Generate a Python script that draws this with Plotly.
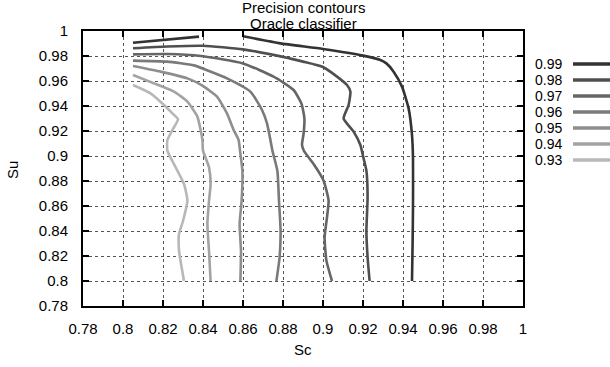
import plotly.graph_objects as go

# ---- data ----
levels = ["0.99", "0.98", "0.97", "0.96", "0.95", "0.94", "0.93"]
level_colors = ["#333333", "#4f4f4f", "#666666", "#7a7a7a", "#8e8e8e", "#a3a3a3", "#b8b8b8"]

sc_099 = [0.805, 0.838, None, 0.860, 0.8787, 0.900, 0.920, 0.9287, 0.9317, 0.9353, 0.9395, 0.9428, 0.9445, 0.9450, 0.9450, 0.9448, 0.9445]
su_099 = [0.9906, 0.9955, None, 0.9958, 0.9901, 0.9856, 0.9803, 0.9768, 0.9741, 0.9675, 0.9555, 0.9381, 0.9168, 0.8981, 0.8600, 0.8300, 0.8000]

sc_098 = [0.805, 0.822, 0.840, 0.860, 0.880, 0.890, 0.900, 0.907, 0.912, 0.9137, 0.9128, 0.9103, 0.9153, 0.9187, 0.9200, 0.9217, 0.9223, 0.9217, 0.9223, 0.9233]
su_098 = [0.9862, 0.9876, 0.9882, 0.9853, 0.9793, 0.9755, 0.9712, 0.9635, 0.9568, 0.9515, 0.9408, 0.9300, 0.9195, 0.9088, 0.9000, 0.8883, 0.8670, 0.8400, 0.8190, 0.8000]

sc_097 = [0.805, 0.822, 0.839, 0.860, 0.8753, 0.8853, 0.8893, 0.8907, 0.8903, 0.8895, 0.8905, 0.8953, 0.9003, 0.9028, 0.9020, 0.9008, 0.9017, 0.9045]
su_097 = [0.9813, 0.9816, 0.9800, 0.9741, 0.9635, 0.9528, 0.9415, 0.9300, 0.9180, 0.9090, 0.9040, 0.8936, 0.8803, 0.8643, 0.8510, 0.8350, 0.8163, 0.8000]

sc_096 = [0.805, 0.822, 0.8355, 0.843, 0.852, 0.8637, 0.8695, 0.8720, 0.8737, 0.8747, 0.8772, 0.8780, 0.8788, 0.8783, 0.8767]
su_096 = [0.9763, 0.9755, 0.9725, 0.9680, 0.9621, 0.9515, 0.9368, 0.9261, 0.9128, 0.9043, 0.8880, 0.8640, 0.8400, 0.8190, 0.8000]

sc_095 = [0.805, 0.8188, 0.8322, 0.8395, 0.8470, 0.8520, 0.8553, 0.8578, 0.8585, 0.8597, 0.8593, 0.8583, 0.8590, 0.8587]
su_095 = [0.9720, 0.9675, 0.9621, 0.9565, 0.9475, 0.9341, 0.9208, 0.9128, 0.9043, 0.8880, 0.8640, 0.8456, 0.8240, 0.8000]

sc_094 = [0.805, 0.8155, 0.8255, 0.8322, 0.8372, 0.8388, 0.8397, 0.8400, 0.8430, 0.8438, 0.8430, 0.8422, 0.8430, 0.8438]
su_094 = [0.9648, 0.9581, 0.9515, 0.9435, 0.9315, 0.9208, 0.9128, 0.9043, 0.8910, 0.8776, 0.8640, 0.8456, 0.8240, 0.8000]

sc_093 = [0.805, 0.8138, 0.8205, 0.8247, 0.8275, 0.8247, 0.8222, 0.8222, 0.8263, 0.8305, 0.8322, 0.8300, 0.8280, 0.8280, 0.8293, 0.8305]
su_093 = [0.9568, 0.9501, 0.9408, 0.9341, 0.9293, 0.9208, 0.9128, 0.9043, 0.8910, 0.8776, 0.8643, 0.8480, 0.8376, 0.8243, 0.8110, 0.8000]

sc_series = [sc_099, sc_098, sc_097, sc_096, sc_095, sc_094, sc_093]
su_series = [su_099, su_098, su_097, su_096, su_095, su_094, su_093]

tick_vals = [0.78, 0.80, 0.82, 0.84, 0.86, 0.88, 0.90, 0.92, 0.94, 0.96, 0.98, 1.00]
tick_text = ["0.78", "0.8", "0.82", "0.84", "0.86", "0.88", "0.9", "0.92", "0.94", "0.96", "0.98", "1"]

title_lines = ["Precision contours", "Oracle classifier"]
x_title = "Sc"
y_title = "Su"

# ---- figure ----
W, H = 610, 367
L, R, T, B = 83, 87, 31, 61
FONT = "Liberation Sans, Arial, sans-serif"

fig = go.Figure()
for lv, col, xs, ys in zip(levels, level_colors, sc_series, su_series):
    fig.add_trace(go.Scatter(
        x=xs, y=ys, mode="lines", name=lv,
        line=dict(color=col, width=2.6, shape="spline", smoothing=0.5),
        connectgaps=False, showlegend=False, hoverinfo="skip"))

axis_common = dict(
    range=[0.78, 1.0], tickmode="array", tickvals=tick_vals, ticktext=tick_text,
    ticks="inside", ticklen=6, tickwidth=2, tickcolor="black",
    showline=True, linecolor="black", linewidth=2, mirror="ticks",
    showgrid=True, gridcolor="#555555", gridwidth=1, griddash="dot",
    zeroline=False, tickfont=dict(family=FONT, size=15, color="black"),
    fixedrange=True,
)
fig.update_xaxes(**axis_common, ticklabelstandoff=8)
fig.update_yaxes(**axis_common, ticklabelstandoff=10)

pw, ph = W - L - R, H - T - B

def px_to_paper(px, py):
    return (px - L) / pw, (H - B - py) / ph

annotations = []
for i, line in enumerate(title_lines):
    _, yp = px_to_paper(0, 8 + 15 * i)
    annotations.append(dict(text=line, x=0.5, y=yp, xref="paper", yref="paper",
                            xanchor="center", yanchor="middle", showarrow=False,
                            font=dict(family=FONT, size=15, color="black")))
xp, yp = px_to_paper(303, 349)
annotations.append(dict(text=x_title, x=0.5, y=yp, xref="paper", yref="paper",
                        xanchor="center", yanchor="middle", showarrow=False,
                        font=dict(family=FONT, size=15, color="black")))
xp, yp = px_to_paper(13, 170)
annotations.append(dict(text=y_title, x=xp, y=yp, xref="paper", yref="paper",
                        xanchor="center", yanchor="middle", showarrow=False, textangle=-90,
                        font=dict(family=FONT, size=15, color="black")))

shapes = []
for i, (lv, col) in enumerate(zip(levels, level_colors)):
    py = 64 + 16 * i
    xt, yt = px_to_paper(564, py)
    annotations.append(dict(text=lv, x=xt, y=yt, xref="paper", yref="paper",
                            xanchor="right", yanchor="middle", showarrow=False,
                            font=dict(family=FONT, size=14, color="black")))
    x0, _ = px_to_paper(573, py)
    x1, _ = px_to_paper(615, py)
    shapes.append(dict(type="line", xref="paper", yref="paper", x0=x0, x1=x1, y0=yt, y1=yt,
                       line=dict(color=col, width=3.5)))

fig.update_layout(
    width=W, height=H, margin=dict(l=L, r=R, t=T, b=B, pad=0),
    paper_bgcolor="white", plot_bgcolor="white",
    annotations=annotations, shapes=shapes, showlegend=False,
    font=dict(family=FONT, size=15, color="black"),
)

fig.write_html("out.html")
